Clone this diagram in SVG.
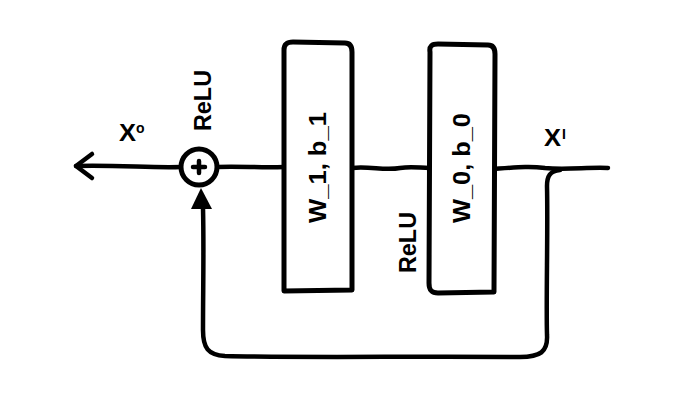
<svg xmlns="http://www.w3.org/2000/svg" width="694" height="408" viewBox="0 0 694 408">
<style>
.ln{fill:none;stroke:#000;stroke-width:4.5;stroke-linecap:round;stroke-linejoin:round}
.bx{fill:#fff;stroke:#000;stroke-width:5;stroke-linejoin:round}
.t{font-family:"Liberation Sans",Arial,sans-serif;font-weight:bold;fill:#000}
</style>
<rect width="694" height="408" fill="#fff"/>
<g id="connectors">
<path class="ln" d="M181,167 C150,168 120,165 76,166"/>
<path class="ln" d="M92,154 L76,166 L92,178"/>
<path class="ln" d="M217,167 C240,166 260,168 284,167"/>
<path class="ln" d="M352,168 C370,166 385,171 400,168 C412,166 420,168 429,168"/>
<path class="ln" d="M494,169 C520,167 530,166 545,168 C565,170 590,167 608,168"/>
<path class="ln" d="M560,170 C550,171 547,176 547,186 C548,230 546,300 547,335 C548,352 540,357 520,357 C420,356 300,358 225,356 C208,355 203,348 203,330 C203,290 204,250 203,208"/>
<polygon points="201,188 191,209 212,209" fill="#000"/>
</g>
<g id="sum">
<circle cx="199" cy="167" r="18" fill="#fff" stroke="#000" stroke-width="5"/>
<path class="ln" d="M199,161 V173 M193,167 H205" stroke-width="2.8"/>
<text class="t" font-size="23" transform="translate(211,131) rotate(-90)" textLength="61" lengthAdjust="spacingAndGlyphs">ReLU</text>
</g>
<g id="x0">
<text class="t" x="119" y="141" font-size="23" textLength="17" lengthAdjust="spacingAndGlyphs">X</text>
<text class="t" x="136" y="133" font-size="14">o</text>
</g>
<g id="xl">
<text class="t" x="544" y="146" font-size="23" textLength="17" lengthAdjust="spacingAndGlyphs">X</text>
<text class="t" x="562" y="139" font-size="14">I</text>
</g>
<g id="w1">
<path class="bx" d="M284,50 C284,44 287,42 293,42 L345,43 C350,43 352,46 352,52 L352,290 L284,291 Z"/>
<text class="t" font-size="23" transform="translate(326,223) rotate(-90)" textLength="111" lengthAdjust="spacingAndGlyphs">W_1, b_1</text>
</g>
<g id="relu2">
<text class="t" font-size="23" transform="translate(416,273) rotate(-90)" textLength="61" lengthAdjust="spacingAndGlyphs">ReLU</text>
</g>
<g id="w0">
<path class="bx" d="M430,52 C429,46 432,44 438,44 L488,45 C493,45 495,48 495,54 L494,292 L438,293 C431,293 429,290 429,283 Z"/>
<text class="t" font-size="23" transform="translate(470,223) rotate(-90)" textLength="110" lengthAdjust="spacingAndGlyphs">W_0, b_0</text>
</g>
</svg>
